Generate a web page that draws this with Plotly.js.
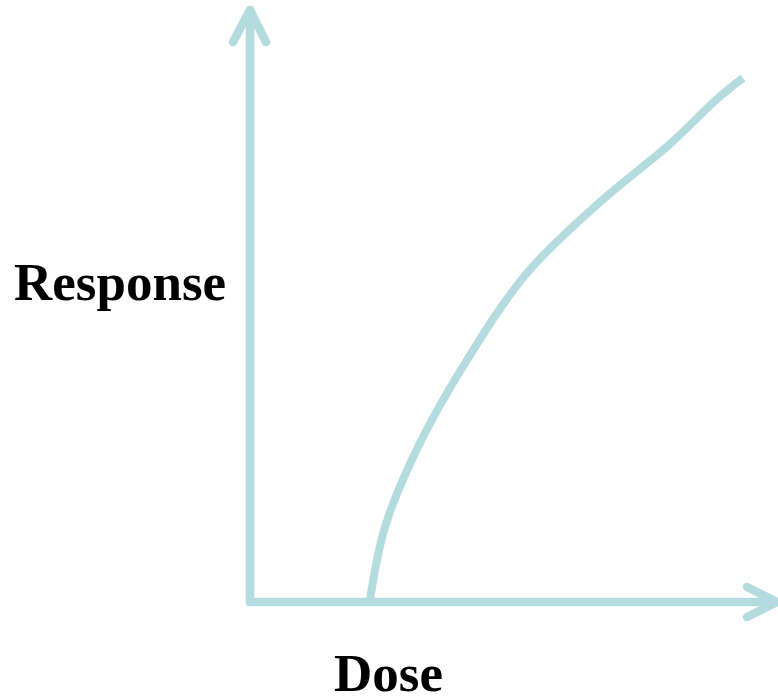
<!DOCTYPE html>
<html>
<head>
<meta charset="utf-8">
<script src="https://cdn.plot.ly/plotly-3.0.1.min.js"></script>
<style>
html, body { margin: 0; padding: 0; background: #ffffff; }
#chart { width: 778px; height: 700px; }
.shapelayer path { stroke-linecap: round; stroke-linejoin: round; }
</style>
</head>
<body>
<div id="chart"></div>
<script>
// Dose-response curve (dose offset, response offset in chart units)
const dose = [120, 135, 168, 217, 277, 350, 420, 467, 493];
const response = [2, 75, 155, 242, 329, 400, 458, 503, 524];

const xLabel = 'Dose';
const yLabel = 'Response';

const lineColor = '#b4dcdf';

const trace = {
  x: dose,
  y: response,
  type: 'scatter',
  mode: 'lines',
  line: { color: lineColor, width: 8, shape: 'spline', smoothing: 1 },
  hoverinfo: 'skip',
  showlegend: false
};

const layout = {
  width: 778,
  height: 700,
  margin: { l: 0, r: 0, t: 0, b: 0, pad: 0 },
  paper_bgcolor: '#ffffff',
  plot_bgcolor: '#ffffff',
  xaxis: { range: [-250, 528], visible: false, fixedrange: true },
  yaxis: { range: [-98, 602], visible: false, fixedrange: true },
  showlegend: false,
  shapes: [
    // vertical axis with arrow
    { type: 'path', xref: 'x', yref: 'y', path: 'M 0 0 L 0 592', line: { color: lineColor, width: 8.5 } },
    { type: 'path', xref: 'x', yref: 'y', path: 'M -17 560 L 0 592 L 16 560', line: { color: lineColor, width: 8.5 } },
    // horizontal axis with arrow
    { type: 'path', xref: 'x', yref: 'y', path: 'M 0 0 L 527 0', line: { color: lineColor, width: 8.5 } },
    { type: 'path', xref: 'x', yref: 'y', path: 'M 497 15 L 527 0 L 497 -15', line: { color: lineColor, width: 8.5 } }
  ],
  annotations: [
    { x: -130, y: 320, xref: 'x', yref: 'y', text: '<b>' + yLabel + '</b>', showarrow: false,
      xanchor: 'center', yanchor: 'middle',
      font: { family: 'Liberation Serif, Times New Roman, serif', size: 53, color: '#000000' } },
    { x: 138, y: -71, xref: 'x', yref: 'y', text: '<b>' + xLabel + '</b>', showarrow: false,
      xanchor: 'center', yanchor: 'middle',
      font: { family: 'Liberation Serif, Times New Roman, serif', size: 53, color: '#000000' } }
  ]
};

Plotly.newPlot('chart', [trace], layout, { staticPlot: true, displayModeBar: false });
</script>
</body>
</html>
